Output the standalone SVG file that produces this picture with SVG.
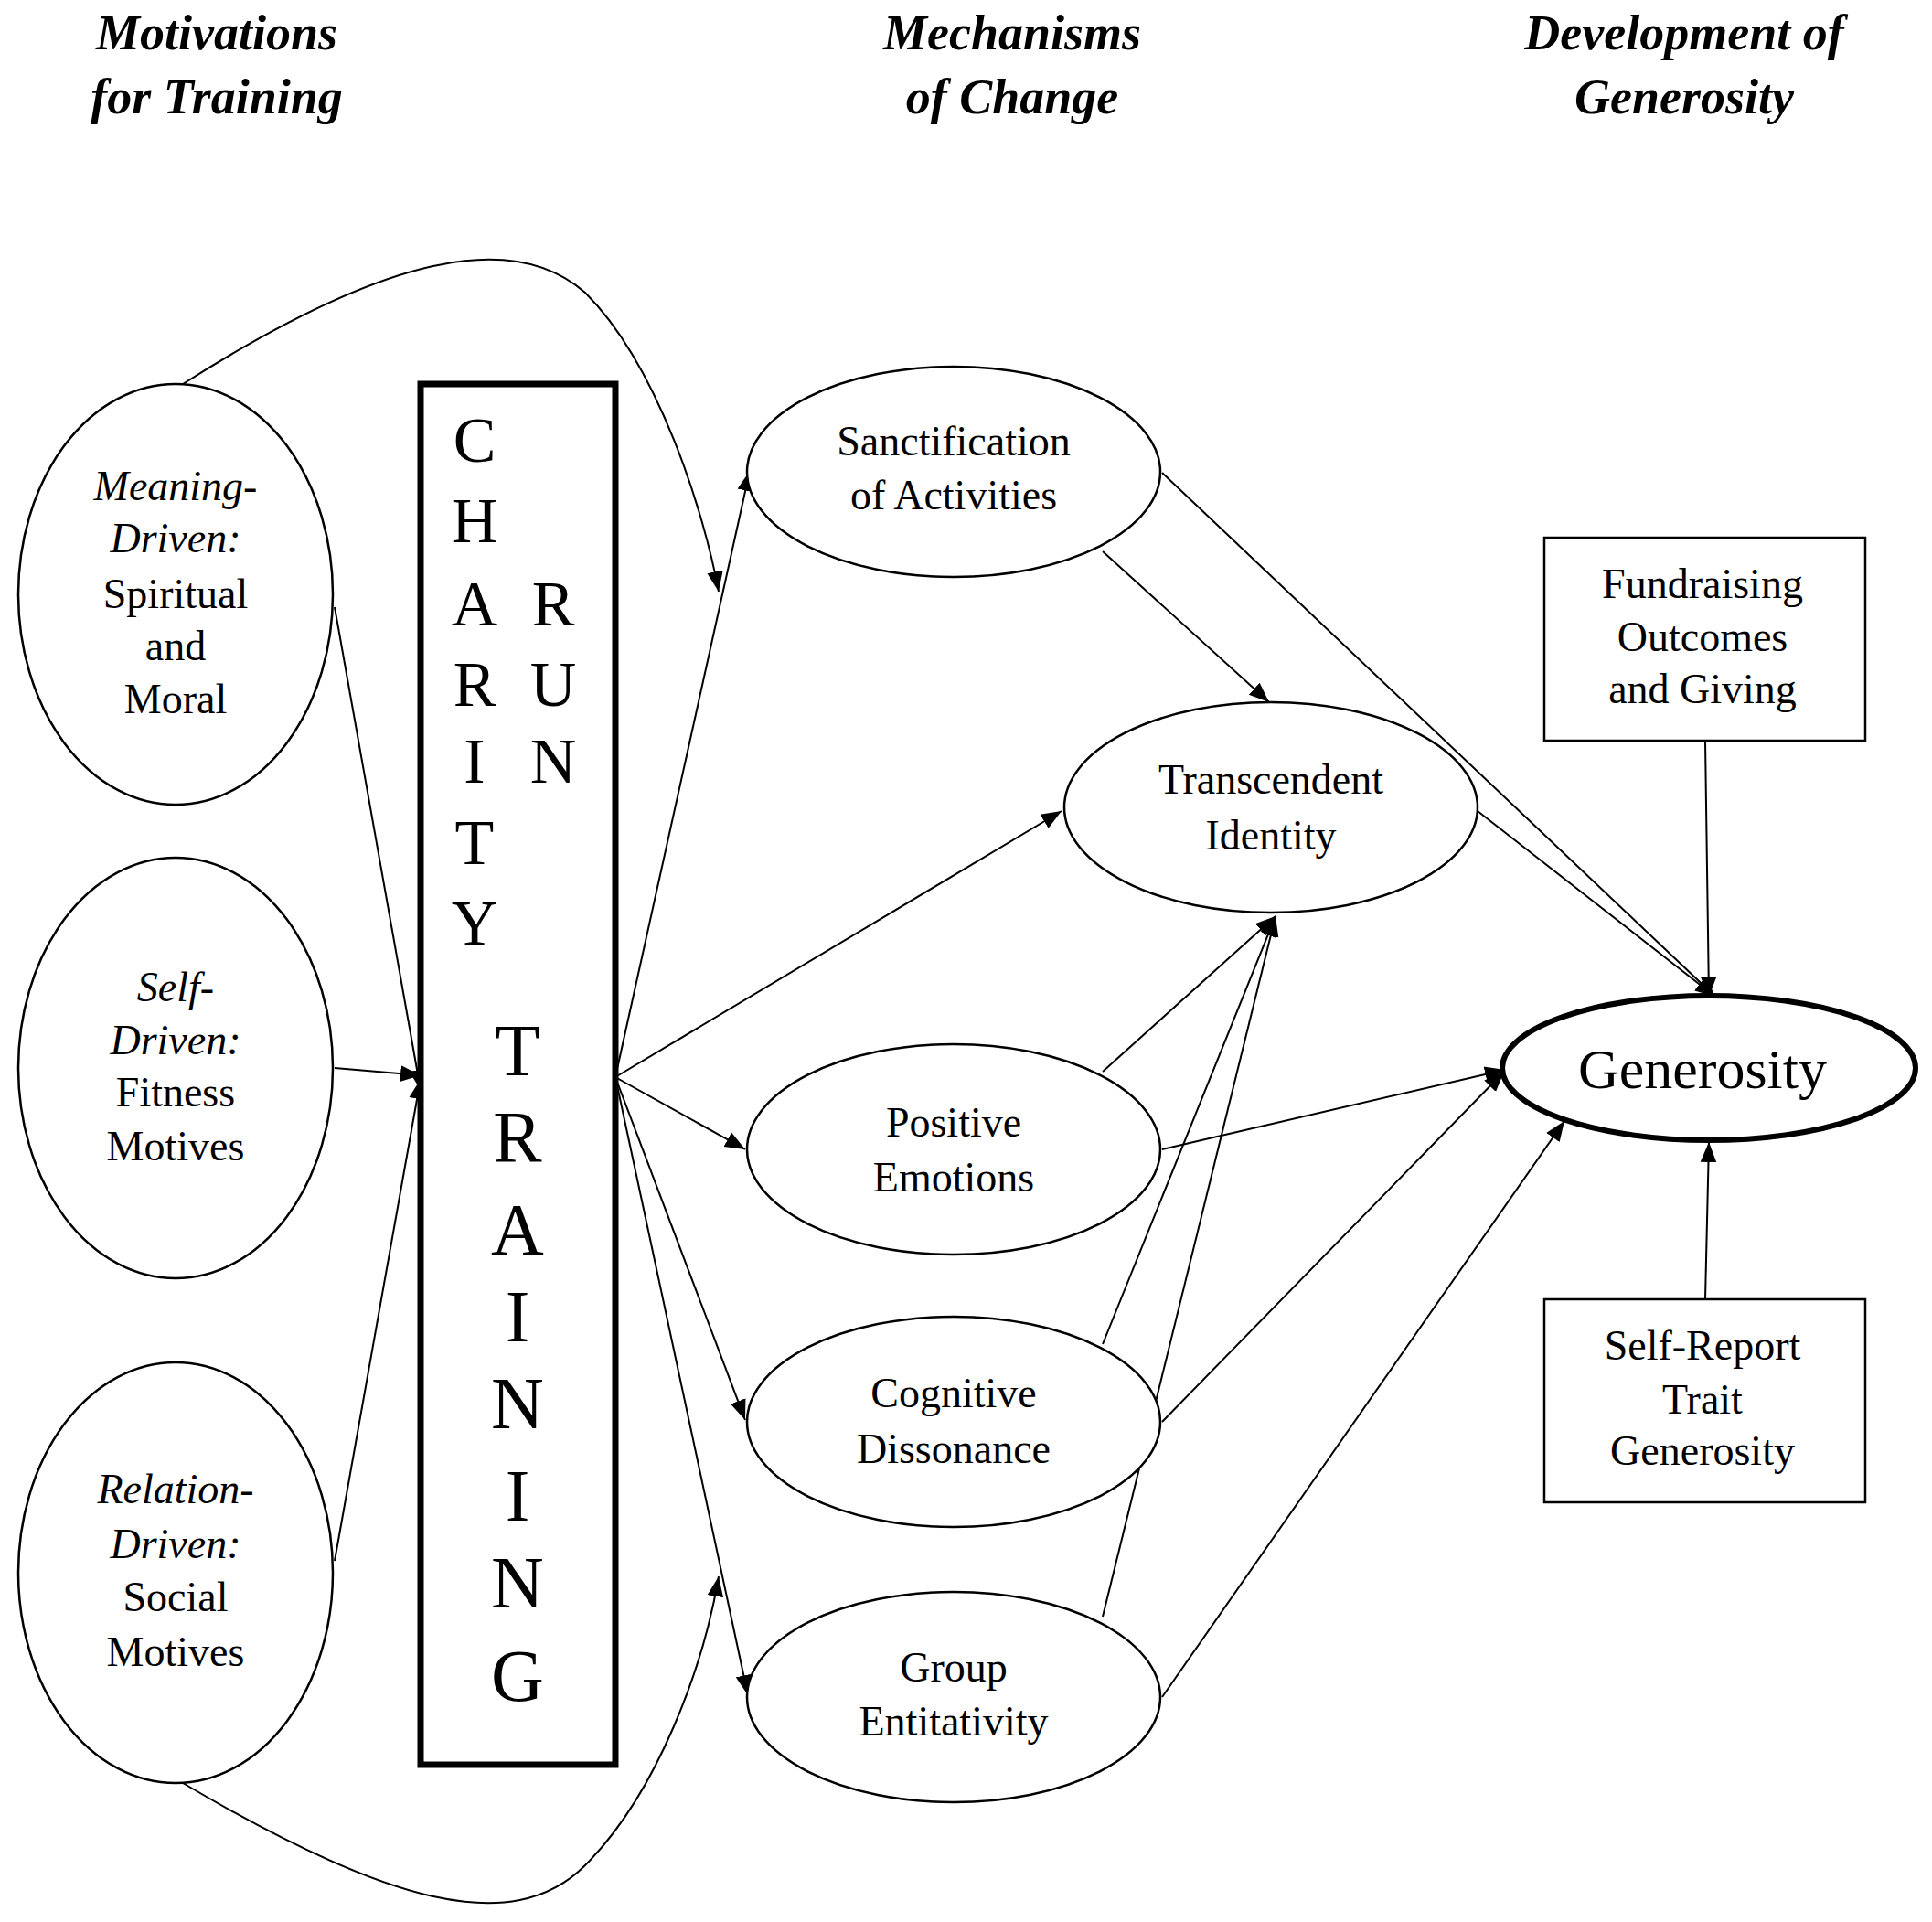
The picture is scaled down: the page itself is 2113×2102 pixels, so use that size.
<svg xmlns="http://www.w3.org/2000/svg" width="2113" height="2102" viewBox="0 0 2113 2102">
<style>
.h{font-family:"Liberation Serif",serif;font-weight:bold;font-style:italic;font-size:54px;text-anchor:middle}
.t{font-family:"Liberation Serif",serif;font-size:46px;text-anchor:middle}
.i{font-style:italic}
.L{font-family:"Liberation Serif",serif;font-size:70px;text-anchor:middle}
.T{font-family:"Liberation Serif",serif;font-size:80px;text-anchor:middle}
.n{fill:#fff;stroke:#000;stroke-width:2.5}
.c path,.c line{fill:none;stroke:#000;stroke-width:2;marker-end:url(#a)}
</style>
<defs><marker id="a" viewBox="0 0 10 10" refX="9" refY="5" markerWidth="9" markerHeight="9" orient="auto" markerUnits="userSpaceOnUse"><path d="M0,0L10,5L0,10z" transform="scale(2.2) translate(-5.5,-2.7)"/></marker>
<marker id="b" viewBox="0 0 10 10" refX="10" refY="5" markerWidth="22" markerHeight="22" orient="auto" markerUnits="userSpaceOnUse"><path d="M0,1L10,5L0,9z"/></marker></defs>
<rect width="2113" height="2102" fill="#fff"/>
<g id="headers">
<text class="h" x="237" y="54">Motivations</text><text class="h" x="237" y="124">for Training</text>
<text class="h" x="1107" y="54">Mechanisms</text><text class="h" x="1107" y="124">of Change</text>
<text class="h" x="1842" y="54">Development of</text><text class="h" x="1842" y="124">Generosity</text>
</g>
<g class="c" style="--m:b">
<path d="M200,420 C420,280 560,250 640,320 C720,400 770,560 786,647" marker-end="url(#b)" style="marker-end:url(#b)"/>
<path d="M200,1950 C420,2080 560,2120 640,2040 C720,1960 770,1820 786,1724" style="marker-end:url(#b)"/>
<line x1="366" y1="664" x2="460" y2="1192" style="marker-end:url(#b)"/>
<line x1="366" y1="1168" x2="460" y2="1176" style="marker-end:url(#b)"/>
<line x1="366" y1="1707" x2="460" y2="1180" style="marker-end:url(#b)"/>
<line x1="673" y1="1178" x2="820" y2="515" style="marker-end:url(#b)"/>
<line x1="673" y1="1178" x2="1161" y2="887" style="marker-end:url(#b)"/>
<line x1="673" y1="1178" x2="815" y2="1257" style="marker-end:url(#b)"/>
<line x1="673" y1="1178" x2="815" y2="1553" style="marker-end:url(#b)"/>
<line x1="673" y1="1178" x2="818" y2="1854" style="marker-end:url(#b)"/>
<line x1="1206" y1="603" x2="1388" y2="768" style="marker-end:url(#b)"/>
<line x1="1271" y1="517" x2="1876" y2="1090" style="marker-end:url(#b)"/>
<line x1="1616" y1="887" x2="1876" y2="1090" style="marker-end:url(#b)"/>
<line x1="1206" y1="1172" x2="1395" y2="1002" style="marker-end:url(#b)"/>
<line x1="1206" y1="1470" x2="1395" y2="1002" style="marker-end:url(#b)"/>
<line x1="1206" y1="1768" x2="1395" y2="1002" style="marker-end:url(#b)"/>
<line x1="1271" y1="1257" x2="1646" y2="1170" style="marker-end:url(#b)"/>
<line x1="1271" y1="1555" x2="1645" y2="1172" style="marker-end:url(#b)"/>
<line x1="1271" y1="1856" x2="1711" y2="1226" style="marker-end:url(#b)"/>
<line x1="1865" y1="810" x2="1869" y2="1090" style="marker-end:url(#b)"/>
<line x1="1865" y1="1421" x2="1869" y2="1249" style="marker-end:url(#b)"/>
</g>
<g id="meaning"><ellipse class="n" cx="192" cy="650" rx="172" ry="230"/>
<text class="t"><tspan class="i" x="192" y="547">Meaning-</tspan><tspan class="i" x="192" y="604">Driven:</tspan><tspan x="192" y="665">Spiritual</tspan><tspan x="192" y="722">and</tspan><tspan x="192" y="780">Moral</tspan></text></g>
<g id="self"><ellipse class="n" cx="192" cy="1168" rx="172" ry="230"/>
<text class="t"><tspan class="i" x="192" y="1095">Self-</tspan><tspan class="i" x="192" y="1153">Driven:</tspan><tspan x="192" y="1210">Fitness</tspan><tspan x="192" y="1269">Motives</tspan></text></g>
<g id="relation"><ellipse class="n" cx="192" cy="1720" rx="172" ry="230"/>
<text class="t"><tspan class="i" x="192" y="1644">Relation-</tspan><tspan class="i" x="192" y="1704">Driven:</tspan><tspan x="192" y="1762">Social</tspan><tspan x="192" y="1822">Motives</tspan></text></g>
<g id="box"><rect x="460" y="420" width="213" height="1510" fill="#fff" stroke="#000" stroke-width="7"/>
<g class="L"><text x="519" y="505">C</text><text x="519" y="593">H</text><text x="519" y="684">A</text><text x="519" y="772">R</text><text x="519" y="856">I</text><text x="519" y="945">T</text><text x="519" y="1033">Y</text>
<text x="605" y="684">R</text><text x="605" y="772">U</text><text x="605" y="856">N</text></g>
<g class="T"><text x="566" y="1176">T</text><text x="566" y="1271">R</text><text x="566" y="1372">A</text><text x="566" y="1467">I</text><text x="566" y="1562">N</text><text x="566" y="1663">I</text><text x="566" y="1758">N</text><text x="566" y="1860">G</text></g></g>
<g id="sanct"><ellipse class="n" cx="1043" cy="516" rx="226" ry="115"/><text class="t"><tspan x="1043" y="498">Sanctification</tspan><tspan x="1043" y="557">of Activities</tspan></text></g>
<g id="trans"><ellipse class="n" cx="1390" cy="883" rx="226" ry="115"/><text class="t"><tspan x="1390" y="868">Transcendent</tspan><tspan x="1390" y="929">Identity</tspan></text></g>
<g id="pos"><ellipse class="n" cx="1043" cy="1257" rx="226" ry="115"/><text class="t"><tspan x="1043" y="1243">Positive</tspan><tspan x="1043" y="1303">Emotions</tspan></text></g>
<g id="cog"><ellipse class="n" cx="1043" cy="1555" rx="226" ry="115"/><text class="t"><tspan x="1043" y="1539">Cognitive</tspan><tspan x="1043" y="1600">Dissonance</tspan></text></g>
<g id="group"><ellipse class="n" cx="1043" cy="1856" rx="226" ry="115"/><text class="t"><tspan x="1043" y="1839">Group</tspan><tspan x="1043" y="1898">Entitativity</tspan></text></g>
<g id="gen"><ellipse cx="1869" cy="1168" rx="226" ry="79" fill="#fff" stroke="#000" stroke-width="6"/><text class="t" x="1862" y="1190" style="font-size:62px">Generosity</text></g>
<g id="fund"><rect class="n" x="1689" y="588" width="351" height="222"/><text class="t"><tspan x="1862" y="654">Fundraising</tspan><tspan x="1862" y="712">Outcomes</tspan><tspan x="1862" y="769">and Giving</tspan></text></g>
<g id="selfrep"><rect class="n" x="1689" y="1421" width="351" height="222"/><text class="t"><tspan x="1862" y="1487">Self-Report</tspan><tspan x="1862" y="1546">Trait</tspan><tspan x="1862" y="1602">Generosity</tspan></text></g>
</svg>
